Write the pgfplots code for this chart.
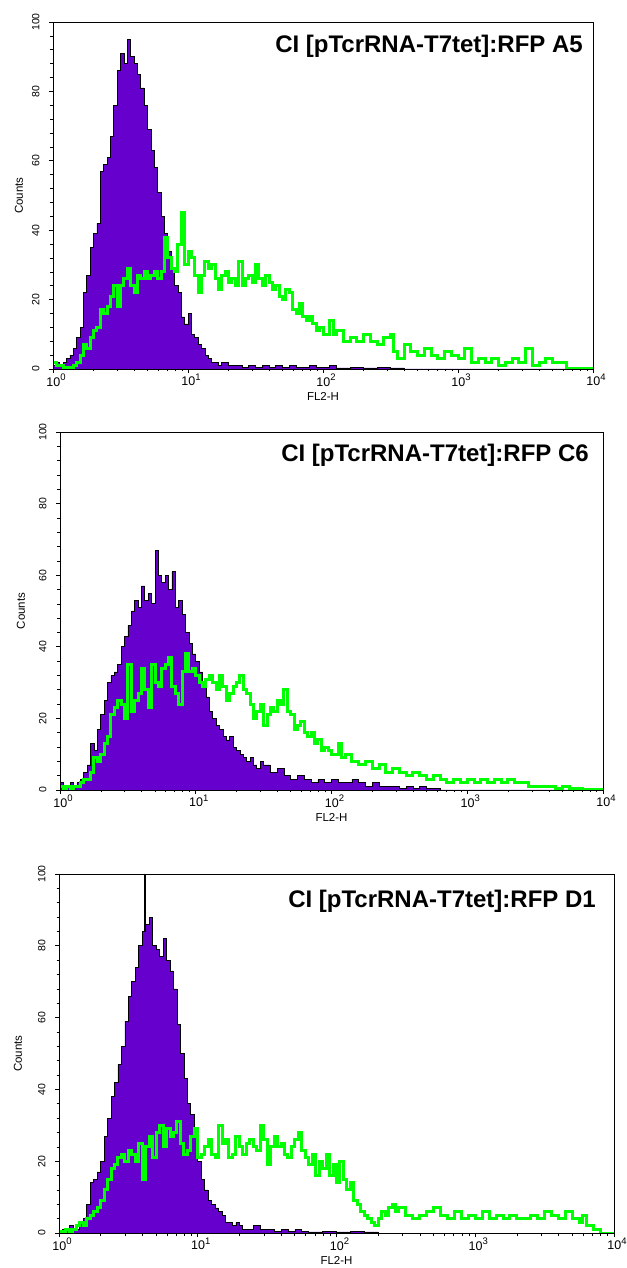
\documentclass[border=0pt]{standalone}
\usepackage{fontspec}
\setmainfont{Liberation Sans}
\usepackage{pgfplots}
\pgfplotsset{compat=1.18}

\definecolor{facspurple}{RGB}{102,0,204}
\definecolor{facsgreen}{RGB}{0,255,0}

\newcommand{\tenpow}[1]{10\raisebox{0.42em}{\fontsize{9.5}{9.5}\selectfont #1}}

\pgfplotsset{
  facs/.style={
    scale only axis,
    anchor=south west,
    xmin=0, xmax=4, ymin=0, ymax=100,
    axis on top,
    axis line style={black, line width=0.8pt},
    tick align=outside,
    xtick pos=left, ytick pos=left,
    xtick={0,1,2,3,4},
    xticklabels={\tenpow{0},\tenpow{1},\tenpow{2},\tenpow{3},\tenpow{4}},
    minor xtick={0.30103,0.47712,0.60206,0.69897,0.77815,0.84510,0.90309,0.95424,
                 1.30103,1.47712,1.60206,1.69897,1.77815,1.84510,1.90309,1.95424,
                 2.30103,2.47712,2.60206,2.69897,2.77815,2.84510,2.90309,2.95424,
                 3.30103,3.47712,3.60206,3.69897,3.77815,3.84510,3.90309,3.95424},
    ytick={0,20,40,60,80,100},
    minor y tick num=4,
    major tick length=4pt, minor tick length=2.5pt,
    every tick/.style={black, line width=0.6pt},
    /pgf/number format/assume math mode=true,
    yticklabel style={font=\fontsize{10.5}{10.5}\selectfont, xshift=-6pt, rotate=90, anchor=south},
    xticklabel style={font=\fontsize{12.5}{12.5}\selectfont, inner sep=1pt, xshift=3pt},
    ylabel={Counts}, xlabel={FL2-H},
    every axis y label/.style={rotate=90, anchor=center, font=\fontsize{11.5}{11.5}\selectfont},
    xlabel style={font=\fontsize{11.5}{11.5}\selectfont, inner sep=1pt, yshift=-4pt},
  },
  purple hist/.style={const plot, fill=facspurple, draw=black, line width=0.7pt},
  green hist/.style={const plot, draw=facsgreen, line width=3pt},
}

\begin{document}
\begin{tikzpicture}
\useasboundingbox (0,0) rectangle (626pt,1268pt);

% ---------- A5 ----------
\begin{axis}[facs, at={(53pt,899pt)}, width=540pt, height=347pt,
  ylabel style={at={(axis description cs:-0.063,0.5)}}]
\addplot[purple hist] coordinates {
(0.000,1)(0.025,2)(0.050,1)(0.075,2)(0.100,3)(0.125,4)(0.150,6)(0.175,9)(0.200,12)
(0.225,22)(0.250,27)(0.275,35)(0.300,39)(0.325,42)(0.350,57)(0.375,59)(0.400,61)
(0.425,67)(0.450,76)(0.475,86)(0.500,91)(0.525,88)(0.550,95)(0.575,90)(0.600,88)
(0.625,85)(0.650,81)(0.675,76)(0.700,69)(0.725,63)(0.750,58)(0.775,51)(0.800,44)
(0.825,39)(0.850,34)(0.875,29)(0.900,24)(0.925,22)(0.950,15)(0.975,13)(1.000,16)
(1.025,10)(1.050,9)(1.075,7)(1.100,6)(1.125,4)(1.150,3)(1.175,2)(1.200,2)(1.225,1)
(1.250,2)(1.300,1)(1.350,1)(1.400,0.5)(1.450,1)(1.500,0.5)(1.550,1)(1.600,0.5)
(1.650,1)(1.700,0.5)(1.750,1)(1.800,0.5)(1.850,0.5)(1.900,1)(1.950,0.5)(2.000,0.5)
(2.050,1)(2.100,0.3)(2.200,0.5)(2.300,0.3)(2.400,0.5)(2.500,0.3)(2.600,0)(4.000,0)
} \closedcycle;
\addplot[green hist] coordinates {
(0.000,2)(0.025,1)(0.050,1)(0.075,0.5)(0.100,0)(0.125,0.5)(0.150,1)(0.175,2)(0.200,4)
(0.225,7)(0.250,6)(0.275,9)(0.300,11)(0.325,12)(0.350,17)(0.375,16)(0.400,18)
(0.425,21)(0.450,24)(0.475,18)(0.500,24)(0.525,26)(0.550,29)(0.575,24)(0.600,22)
(0.625,27)(0.650,26)(0.675,28)(0.700,26)(0.725,27)(0.750,28)(0.775,26)(0.800,28)
(0.825,38)(0.850,32)(0.875,29)(0.900,28)(0.925,36)(0.950,45)(0.975,30)(1.000,34)
(1.025,32)(1.050,27)(1.075,22)(1.100,27)(1.125,31)(1.150,29)(1.175,30)(1.200,26)
(1.225,23)(1.250,27)(1.275,28)(1.300,25)(1.325,26)(1.350,24)(1.375,31)(1.400,24)
(1.425,26)(1.450,27)(1.475,25)(1.500,30)(1.525,26)(1.550,24)(1.575,27)(1.600,25)
(1.625,23)(1.650,24)(1.675,21)(1.700,20)(1.725,23)(1.750,22)(1.775,17)(1.800,16)
(1.825,19)(1.850,15)(1.875,14)(1.900,15)(1.925,13)(1.950,11)(1.975,12)(2.000,10)
(2.050,14)(2.075,10)(2.100,11)(2.150,8)(2.200,9)(2.250,8)(2.300,10)(2.350,8)
(2.400,7)(2.450,9)(2.500,10)(2.525,5)(2.550,3)(2.600,7)(2.650,5)(2.700,4)(2.750,6)
(2.800,4)(2.850,3)(2.900,5)(2.950,4)(3.000,3)(3.050,6)(3.100,2)(3.150,3)(3.200,2)
(3.250,3)(3.300,1)(3.350,2)(3.400,3)(3.450,2)(3.500,6)(3.550,1)(3.600,2)(3.650,3)
(3.700,2)(3.750,2)(3.800,0)(4.000,0)
};
\node[anchor=north east, inner sep=0pt, font=\bfseries\fontsize{24}{24}\selectfont]
  at (rel axis cs:1,1) [xshift=-10pt, yshift=-13pt] {CI [pTcrRNA-T7tet]:RFP A5};
\end{axis}

% ---------- C6 ----------
\begin{axis}[facs, at={(60pt,478pt)}, width=543pt, height=358pt,
  ylabel style={at={(axis description cs:-0.072,0.5)}}]
\addplot[purple hist] coordinates {
(0.000,2)(0.025,1)(0.050,1)(0.075,2)(0.100,1)(0.125,2)(0.150,3)(0.175,5)(0.200,7)
(0.225,13)(0.250,11)(0.275,17)(0.300,21)(0.325,25)(0.350,30)(0.375,32)(0.400,33)
(0.425,35)(0.450,40)(0.475,43)(0.500,46)(0.525,50)(0.550,53)(0.575,51)(0.600,57)
(0.625,53)(0.650,55)(0.675,52)(0.700,67)(0.725,60)(0.750,58)(0.775,60)(0.800,56)
(0.825,61)(0.850,51)(0.875,53)(0.900,49)(0.925,44)(0.950,41)(0.975,38)(1.000,36)
(1.025,33)(1.050,29)(1.075,26)(1.100,22)(1.125,20)(1.150,18)(1.175,17)(1.200,15)
(1.225,14)(1.250,15)(1.275,12)(1.300,11)(1.325,10)(1.350,9)(1.375,8)(1.400,9)
(1.425,7)(1.450,6)(1.475,8)(1.500,7)(1.550,5)(1.600,6)(1.650,4)(1.700,3)(1.750,4)
(1.800,3)(1.850,2)(1.900,3)(1.950,2)(2.000,3)(2.050,2)(2.100,2)(2.150,3)(2.200,2)
(2.250,1)(2.300,2)(2.350,1)(2.400,1)(2.450,1)(2.500,0.5)(2.550,1)(2.600,0.5)
(2.650,1)(2.700,0.5)(2.800,0)(4.000,0)
} \closedcycle;
\addplot[green hist] coordinates {
(0.000,1)(0.025,0.5)(0.050,1)(0.075,0.5)(0.100,1)(0.125,1)(0.150,2)(0.175,3)(0.200,3)
(0.225,5)(0.250,9)(0.275,8)(0.300,10)(0.325,13)(0.350,15)(0.375,21)(0.400,23)
(0.425,25)(0.450,24)(0.475,20)(0.500,35)(0.525,22)(0.550,25)(0.575,27)(0.600,34)
(0.625,28)(0.650,23)(0.675,35)(0.700,30)(0.725,29)(0.750,34)(0.775,35)(0.800,37)
(0.825,29)(0.850,27)(0.875,24)(0.900,33)(0.925,38)(0.950,33)(0.975,34)(1.000,32)
(1.025,30)(1.050,29)(1.075,31)(1.100,32)(1.125,30)(1.150,28)(1.175,32)(1.200,29)
(1.225,25)(1.250,27)(1.275,29)(1.300,30)(1.325,32)(1.350,28)(1.375,27)(1.400,24)
(1.425,20)(1.450,22)(1.475,24)(1.500,18)(1.525,21)(1.550,23)(1.575,22)(1.600,25)
(1.625,24)(1.650,28)(1.675,22)(1.700,21)(1.725,17)(1.750,18)(1.775,19)(1.800,16)
(1.825,15)(1.850,16)(1.875,13)(1.900,14)(1.925,11)(1.950,12)(1.975,11)(2.000,10)
(2.050,13)(2.075,9)(2.100,10)(2.150,8)(2.200,7)(2.250,8)(2.300,6)(2.350,7)(2.400,5)
(2.450,6)(2.500,5)(2.550,4)(2.600,5)(2.650,4)(2.700,3)(2.750,4)(2.800,3)(2.850,2)
(2.900,3)(2.950,2)(3.000,3)(3.050,2)(3.100,3)(3.150,2)(3.200,3)(3.250,2)(3.300,3)
(3.350,2)(3.400,2)(3.450,1)(3.500,1)(3.550,1)(3.600,1)(3.650,0.5)(3.700,1)
(3.750,0.5)(3.800,0.5)(3.850,0)(4.000,0)
};
\node[anchor=north east, inner sep=0pt, font=\bfseries\fontsize{24}{24}\selectfont]
  at (rel axis cs:1,1) [xshift=-14pt, yshift=-12pt] {CI [pTcrRNA-T7tet]:RFP C6};
\end{axis}

% ---------- D1 ----------
\begin{axis}[facs, at={(59pt,35pt)}, width=555pt, height=359pt,
  ylabel style={at={(axis description cs:-0.074,0.5)}}]
\addplot[purple hist] coordinates {
(0.000,0.5)(0.025,1)(0.050,1)(0.075,2)(0.100,1)(0.125,1)(0.150,3)(0.175,4)(0.200,8)
(0.225,14)(0.250,15)(0.275,17)(0.300,20)(0.325,27)(0.350,32)(0.375,38)(0.400,42)
(0.425,47)(0.450,52)(0.475,59)(0.500,66)(0.525,70)(0.550,74)(0.575,80)(0.600,84)
(0.615,100)(0.620,84)(0.625,86)(0.650,88)(0.675,80)(0.700,79)(0.725,77)(0.750,82)
(0.775,76)(0.800,73)(0.825,68)(0.850,58)(0.875,50)(0.900,43)(0.925,36)(0.950,33)
(0.975,27)(1.000,20)(1.025,15)(1.050,12)(1.075,9)(1.100,8)(1.125,7)(1.150,6)
(1.175,5)(1.200,3)(1.225,3)(1.250,2)(1.275,3)(1.300,2)(1.325,1)(1.350,1)(1.400,2)
(1.450,1)(1.500,1)(1.550,0.5)(1.600,1)(1.650,0.5)(1.700,1)(1.750,0.5)(1.800,0.3)
(1.900,0.5)(2.000,0.3)(2.100,0.5)(2.200,0.3)(2.300,0)(4.000,0)
} \closedcycle;
\addplot[green hist] coordinates {
(0.000,0.5)(0.025,0)(0.050,1)(0.075,0.5)(0.100,1)(0.125,2)(0.150,3)(0.175,2)(0.200,4)
(0.225,5)(0.250,6)(0.275,7)(0.300,9)(0.325,12)(0.350,15)(0.375,18)(0.400,19)
(0.425,21)(0.450,22)(0.475,20)(0.500,23)(0.525,22)(0.550,20)(0.575,25)(0.600,15)
(0.625,24)(0.650,27)(0.675,21)(0.700,28)(0.725,30)(0.750,24)(0.775,29)(0.800,27)
(0.825,28)(0.850,31)(0.875,25)(0.900,22)(0.925,23)(0.950,27)(0.975,29)(1.000,21)
(1.025,22)(1.050,24)(1.075,26)(1.100,22)(1.125,21)(1.150,30)(1.175,25)(1.200,26)
(1.225,21)(1.250,22)(1.275,27)(1.300,24)(1.325,22)(1.350,25)(1.375,26)(1.400,24)
(1.425,23)(1.450,30)(1.475,26)(1.500,19)(1.525,24)(1.550,27)(1.575,24)(1.600,25)
(1.625,22)(1.650,21)(1.675,24)(1.700,26)(1.725,28)(1.750,23)(1.775,21)(1.800,19)
(1.825,22)(1.850,16)(1.875,20)(1.900,18)(1.925,22)(1.950,16)(1.975,19)(2.000,14)
(2.025,20)(2.050,15)(2.075,12)(2.100,14)(2.125,9)(2.150,8)(2.175,6)(2.200,5)
(2.225,4)(2.250,3)(2.275,2)(2.300,4)(2.325,6)(2.350,5)(2.375,7)(2.400,8)(2.425,6)
(2.450,7)(2.500,5)(2.550,4)(2.600,5)(2.650,6)(2.700,7)(2.750,5)(2.800,4)(2.850,6)
(2.900,4)(2.950,5)(3.000,4)(3.050,6)(3.100,4)(3.150,5)(3.200,4)(3.250,5)(3.300,4)
(3.350,4)(3.400,5)(3.450,4)(3.500,6)(3.550,5)(3.600,4)(3.650,6)(3.700,4)(3.750,3)
(3.775,5)(3.800,2)(3.850,1)(3.900,0)(4.000,0)
};
\node[anchor=north east, inner sep=0pt, font=\bfseries\fontsize{24}{24}\selectfont]
  at (rel axis cs:1,1) [xshift=-18pt, yshift=-16pt] {CI [pTcrRNA-T7tet]:RFP D1};
\end{axis}
\end{tikzpicture}
\end{document}
